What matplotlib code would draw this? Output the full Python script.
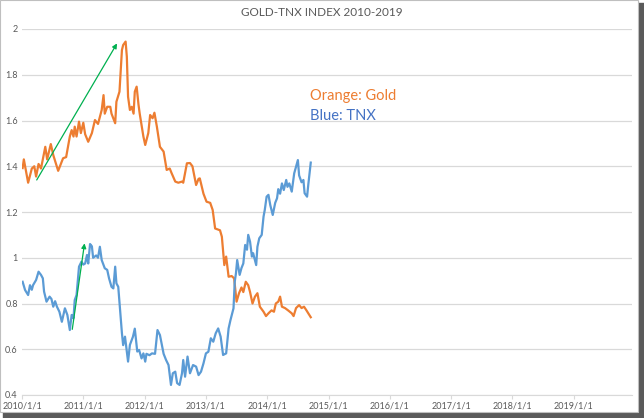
import matplotlib.pyplot as plt
from matplotlib.patches import Rectangle

# данные (десятичные годы)
gold_t = [2010.01, 2010.03, 2010.10, 2010.16, 2010.20, 2010.23, 2010.27, 2010.31, 2010.38, 2010.41,
          2010.47, 2010.51, 2010.59, 2010.67, 2010.72, 2010.78, 2010.81, 2010.84, 2010.86, 2010.89,
          2010.93, 2010.96, 2011.00, 2011.03, 2011.08, 2011.14, 2011.19, 2011.24, 2011.30, 2011.33,
          2011.35, 2011.39, 2011.44, 2011.46, 2011.52, 2011.54, 2011.59, 2011.63, 2011.65, 2011.69,
          2011.71, 2011.73, 2011.76, 2011.79, 2011.82, 2011.84, 2011.87, 2011.90, 2011.92, 2011.98,
          2012.01, 2012.06, 2012.09, 2012.13, 2012.16, 2012.20, 2012.25, 2012.31, 2012.36, 2012.41,
          2012.44, 2012.50, 2012.55, 2012.61, 2012.63, 2012.69, 2012.74, 2012.78, 2012.84, 2012.88,
          2012.90, 2012.96, 2013.01, 2013.07, 2013.11, 2013.15, 2013.23, 2013.26, 2013.30, 2013.33,
          2013.37, 2013.42, 2013.46, 2013.50, 2013.54, 2013.58, 2013.61, 2013.65, 2013.69, 2013.72,
          2013.76, 2013.80, 2013.84, 2013.88, 2013.94, 2013.98, 2014.02, 2014.07, 2014.11, 2014.14,
          2014.18, 2014.21, 2014.24, 2014.29, 2014.34, 2014.40, 2014.43, 2014.47, 2014.52, 2014.56,
          2014.60, 2014.64, 2014.67, 2014.71]
gold_v = [1.392, 1.43, 1.328, 1.39, 1.40, 1.355, 1.41, 1.39, 1.485, 1.43,
          1.497, 1.449, 1.38, 1.435, 1.44, 1.53, 1.558, 1.53, 1.573, 1.53,
          1.595, 1.545, 1.59, 1.54, 1.507, 1.545, 1.602, 1.585, 1.646, 1.711,
          1.63, 1.66, 1.66, 1.63, 1.588, 1.682, 1.726, 1.908, 1.93, 1.945,
          1.879, 1.704, 1.646, 1.66, 1.63, 1.726, 1.748, 1.67, 1.63, 1.53,
          1.493, 1.545, 1.624, 1.61, 1.634, 1.573, 1.485, 1.464, 1.384, 1.39,
          1.37, 1.333, 1.328, 1.333, 1.328, 1.413, 1.414, 1.40, 1.318, 1.345,
          1.347, 1.28, 1.245, 1.24, 1.209, 1.128, 1.12, 1.092, 0.968, 1.005,
          0.917, 0.92, 0.91, 0.808, 0.845, 0.87, 0.85, 0.895, 0.88, 0.85,
          0.80, 0.83, 0.845, 0.786, 0.764, 0.745, 0.757, 0.77, 0.764, 0.80,
          0.808, 0.83, 0.786, 0.78, 0.77, 0.757, 0.745, 0.78, 0.793, 0.78,
          0.786, 0.77, 0.757, 0.74]

tnx_t = [2010.01, 2010.05, 2010.10, 2010.13, 2010.16, 2010.18, 2010.23, 2010.27, 2010.31, 2010.34,
         2010.36, 2010.40, 2010.45, 2010.48, 2010.51, 2010.54, 2010.57, 2010.61, 2010.65, 2010.70,
         2010.74, 2010.78, 2010.81, 2010.84, 2010.86, 2010.89, 2010.93, 2010.97, 2011.00, 2011.03,
         2011.06, 2011.08, 2011.11, 2011.14, 2011.16, 2011.21, 2011.24, 2011.27, 2011.30, 2011.35,
         2011.39, 2011.42, 2011.46, 2011.49, 2011.52, 2011.54, 2011.57, 2011.63, 2011.65, 2011.68,
         2011.71, 2011.73, 2011.76, 2011.81, 2011.84, 2011.88, 2011.91, 2011.95, 2011.98, 2012.01,
         2012.03, 2012.08, 2012.12, 2012.17, 2012.21, 2012.25, 2012.31, 2012.35, 2012.39, 2012.43,
         2012.46, 2012.50, 2012.53, 2012.57, 2012.61, 2012.63, 2012.66, 2012.70, 2012.74, 2012.79,
         2012.84, 2012.88, 2012.92, 2012.96, 2013.00, 2013.04, 2013.08, 2013.12, 2013.16, 2013.20,
         2013.24, 2013.28, 2013.33, 2013.37, 2013.40, 2013.45, 2013.47, 2013.49, 2013.51, 2013.55,
         2013.58, 2013.61, 2013.64, 2013.67, 2013.69, 2013.72, 2013.75, 2013.77, 2013.82, 2013.84,
         2013.87, 2013.91, 2013.94, 2013.96, 2013.99, 2014.02, 2014.05, 2014.09, 2014.13, 2014.16,
         2014.18, 2014.21, 2014.24, 2014.27, 2014.31, 2014.33, 2014.36, 2014.40, 2014.44, 2014.47,
         2014.50, 2014.52, 2014.56, 2014.59, 2014.61, 2014.65, 2014.67, 2014.71]
tnx_v = [0.895, 0.859, 0.837, 0.88, 0.86, 0.88, 0.903, 0.939, 0.925, 0.91,
         0.852, 0.808, 0.83, 0.82, 0.786, 0.81, 0.786, 0.764, 0.72, 0.779,
         0.75, 0.684, 0.75, 0.735, 0.815, 0.837, 0.961, 0.983, 0.97, 0.975,
         1.012, 0.975, 1.06, 1.05, 1.0, 1.01, 1.0, 1.048, 0.99, 0.954,
         0.947, 0.91, 0.873, 0.866, 0.961, 0.888, 0.873, 0.67, 0.618, 0.655,
         0.59, 0.546, 0.619, 0.655, 0.69, 0.59, 0.597, 0.56, 0.582, 0.546,
         0.58, 0.574, 0.582, 0.58, 0.684, 0.662, 0.58, 0.553, 0.531, 0.444,
         0.495, 0.502, 0.452, 0.444, 0.495, 0.553, 0.48, 0.568, 0.495, 0.531,
         0.524, 0.487, 0.502, 0.538, 0.582, 0.589, 0.648, 0.633, 0.67, 0.691,
         0.655, 0.575, 0.582, 0.691, 0.727, 0.779, 0.895, 0.932, 0.99, 0.925,
         0.955, 0.975, 1.056, 1.035, 1.10, 1.07, 1.005, 1.02, 0.968, 1.048,
         1.085, 1.10, 1.18, 1.209, 1.267, 1.275, 1.23, 1.187, 1.24, 1.26,
         1.30, 1.28, 1.325, 1.296, 1.34, 1.31, 1.325, 1.289, 1.369, 1.398,
         1.427, 1.36, 1.33, 1.34, 1.282, 1.267, 1.32, 1.416]

# стрелки тренда: (начало), (конец)
arrows = [((2010.24, 1.34), (2011.55, 1.937)),
          ((2010.82, 0.687), (2011.02, 1.063))]

years = list(range(2010, 2020))
year_labels = [f'{y}/1/1' for y in years]
y_ticks = [0.4, 0.6, 0.8, 1.0, 1.2, 1.4, 1.6, 1.8, 2.0]
y_labels = ['0.4', '0.6', '0.8', '1', '1.2', '1.4', '1.6', '1.8', '2']

plt.rcParams['font.family'] = ['Lato', 'DejaVu Sans']

fig = plt.figure(figsize=(6.44, 4.18), dpi=100)
ax = fig.add_axes([22 / 644, 23 / 418, 610 / 644, 366 / 418])

ax.plot(gold_t, gold_v, color='#ED7D31', linewidth=1.6, solid_joinstyle='round')
ax.plot(tnx_t, tnx_v, color='#5B9BD5', linewidth=1.6, solid_joinstyle='round')

for (x0, y0), (x1, y1) in arrows:
    ax.annotate('', xy=(x1, y1), xytext=(x0, y0),
                arrowprops=dict(arrowstyle='-|>', color='#00B050', lw=0.9,
                                mutation_scale=7, shrinkA=0, shrinkB=0))

ax.text(2014.7, 1.707, 'Orange: Gold', color='#ED7D31', fontsize=10.5, va='center')
ax.text(2014.7, 1.62, 'Blue: TNX', color='#4472C4', fontsize=10.5, va='center')

ax.set_xlim(2010, 2019.95)
ax.set_ylim(0.4, 2.0)
ax.set_xticks(years)
ax.set_xticklabels(year_labels)
ax.set_yticks(y_ticks)
ax.set_yticklabels(y_labels)
ax.grid(axis='y', color='#D9D9D9', linewidth=0.9)
ax.set_axisbelow(True)
for s in ['top', 'right', 'left']:
    ax.spines[s].set_visible(False)
ax.spines['bottom'].set_color('#D9D9D9')
ax.tick_params(axis='x', colors='#D9D9D9', labelcolor='#595959', labelsize=6.5, length=3, pad=2)
ax.tick_params(axis='y', length=0, labelcolor='#595959', labelsize=6.5, pad=3)

fig.text(0.5, 1 - 12 / 418, 'GOLD-TNX INDEX 2010-2019', ha='center', va='center',
         color='#595959', fontsize=8.5)

# рамка и тень как у скриншота
fig.patches.append(Rectangle((638 / 644, 0), 6 / 644, 1 - 3 / 418, transform=fig.transFigure,
                             color='#5A5A5A', zorder=-1))
fig.patches.append(Rectangle((3 / 644, 0), 641 / 644, 6 / 418, transform=fig.transFigure,
                             color='#5A5A5A', zorder=-1))
fig.patches.append(Rectangle((0, 6 / 418), 638 / 644, 412 / 418, transform=fig.transFigure,
                             facecolor='white', edgecolor='#BFBFBF', linewidth=0.8, zorder=-0.5))

fig.savefig('out.png', dpi=100)
